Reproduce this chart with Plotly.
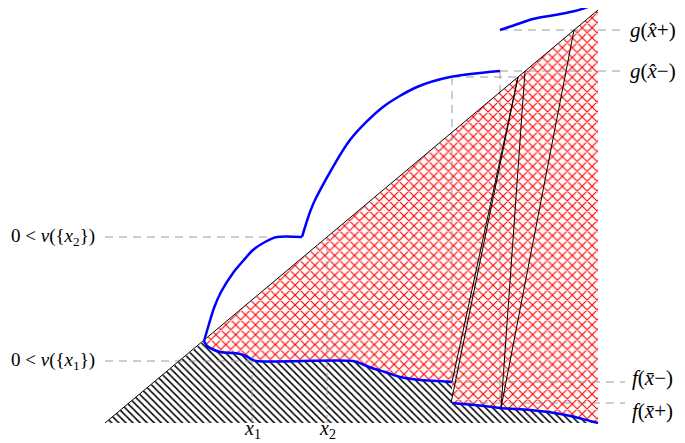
import plotly.graph_objects as go

# Diagram coordinates (diagonal runs from (0,0) to (493,413))
diag_x = [0, 493]
diag_y = [0, 413]

# lower blue curve (f), left piece up to x-bar and right piece after the jump
f_left_x = [99, 102, 107, 115, 127, 135, 141, 146, 151, 248, 257, 267, 280, 295, 315, 335, 347]
f_left_y = [82, 77, 74, 71, 70, 69, 67, 64, 62, 62, 59, 55, 51, 46, 43, 42, 41]
f_right_x = [347, 370, 395, 425, 450, 470, 485, 493]
f_right_y = [20, 18, 15, 13, 10, 6, 2, 0]

# upper blue curve (g)
g1_x = [99, 104, 109, 116, 128, 138, 148, 160, 172, 197]
g1_y = [82, 99, 115, 131, 150, 162, 173, 181, 186, 186]
g2_x = [197, 201, 205, 210, 245, 278, 312, 345, 395]
g2_y = [186, 199, 211, 223, 283, 316, 336, 346, 352]
g3_x = [395, 410, 428, 450, 470, 485, 493]
g3_y = [393, 398, 404, 408, 412, 417, 422]

# key levels / points
x1, x2 = 147, 222
nu1, nu2 = 62, 186
x_hat = 395
g_minus, g_plus = 352, 393
x_bar = 347
f_minus, f_plus = 41, 20
box_y = 346
label_x = 520

# thin black segments (start on diagonal, end on f)
seg_x0 = [413, 413, 420, 469]
seg_y0 = [346, 346, 352, 393]
seg_x1 = [347, 346, 396, 396]
seg_y1 = [41, 20, 15, 15]

fig = go.Figure()

# hatched region below f
hx = [0] + f_left_x + f_right_x + [0]
hy = [0] + f_left_y + f_right_y + [0]
fig.add_trace(go.Scatter(x=hx, y=hy, mode="lines", fill="toself", line=dict(width=0),
                         fillcolor="white",
                         fillpattern=dict(shape="\\", fgcolor="black", bgcolor="white", size=5,
                                          solidity=0.3, fgopacity=1),
                         hoverinfo="skip", showlegend=False))
# red cross-hatched region between diagonal and f
rx = [f_left_x[0], diag_x[1], diag_x[1]] + f_right_x[::-1] + f_left_x[::-1]
ry = [f_left_y[0], diag_y[1], 0] + f_right_y[::-1] + f_left_y[::-1]
fig.add_trace(go.Scatter(x=rx, y=ry, mode="lines", fill="toself", line=dict(width=0),
                         fillcolor="white",
                         fillpattern=dict(shape="x", fgcolor="#ff0000", bgcolor="white", size=7,
                                          solidity=0.3, fgopacity=1),
                         hoverinfo="skip", showlegend=False))

dash = dict(color="#9a9a9a", width=1, dash="8px,6px")

def dline(xs, ys):
    fig.add_trace(go.Scatter(x=xs, y=ys, mode="lines", line=dash, hoverinfo="skip", showlegend=False))

dline([0, x1], [nu1, nu1])
dline([x1, x1], [nu1, 0])
dline([0, g1_x[-2]], [nu2, nu2])
dline([x2, x2], [0, nu2])
dline([x_hat, label_x], [g_minus, g_minus])
dline([x_hat, label_x], [g_plus, g_plus])
dline([x_bar, 413], [box_y, box_y])
dline([x_bar, x_bar], [box_y, f_minus])
dline([x_hat, x_hat], [g_minus, 15])
dline([x_bar, label_x], [f_minus, f_minus])
dline([x_bar, label_x], [f_plus, f_plus])

# diagonal
fig.add_trace(go.Scatter(x=diag_x, y=diag_y, mode="lines", line=dict(color="black", width=1),
                         hoverinfo="skip", showlegend=False))
# black segments
for a, b, c, d in zip(seg_x0, seg_y0, seg_x1, seg_y1):
    fig.add_trace(go.Scatter(x=[a, c], y=[b, d], mode="lines", line=dict(color="black", width=1),
                             hoverinfo="skip", showlegend=False))

blue = dict(color="#0000ff", width=2.5)
for xs, ys in [(f_left_x, f_left_y), (f_right_x, f_right_y), (g1_x, g1_y), (g2_x, g2_y), (g3_x, g3_y)]:
    fig.add_trace(go.Scatter(x=xs, y=ys, mode="lines", line=dict(shape="spline", smoothing=0.8, **blue),
                             hoverinfo="skip", showlegend=False))

font_l = dict(family="Liberation Serif", size=19, color="black")
font_r = dict(family="Liberation Serif", size=21, color="black")
font_x = dict(family="Liberation Serif", size=20, color="black")
ann = [
    dict(x=-8, y=nu2, text="0 &lt; <i>ν</i>({<i>x</i><sub>2</sub>})", xanchor="right", font=font_l),
    dict(x=-8, y=nu1, text="0 &lt; <i>ν</i>({<i>x</i><sub>1</sub>})", xanchor="right", font=font_l),
    dict(x=x1, y=-6, text="<i>x</i><sub>1</sub>", xanchor="center", font=font_x),
    dict(x=x2, y=-6, text="<i>x</i><sub>2</sub>", xanchor="center", font=font_x),
    dict(x=523, y=g_plus, text="<i>g</i>(<i>x\u0302</i>+)", xanchor="left", font=font_r),
    dict(x=523, y=g_minus, text="<i>g</i>(<i>x\u0302</i>−)", xanchor="left", font=font_r),
    dict(x=525, y=45, text="<i>f</i>(<i>x\u0304</i>−)", xanchor="left", font=font_r),
    dict(x=525, y=12, text="<i>f</i>(<i>x\u0304</i>+)", xanchor="left", font=font_r),
]
for a in ann:
    fig.add_annotation(xref="x", yref="y", showarrow=False, yanchor="middle", **a)

# page body has an 8px margin: ranges are offset so the drawing lands where it should
fig.update_layout(width=685, height=443, autosize=False,
                  margin=dict(l=0, r=0, t=0, b=0, pad=0),
                  plot_bgcolor="white", paper_bgcolor="white",
                  xaxis=dict(range=[-97, 588], visible=False, showgrid=False, zeroline=False),
                  yaxis=dict(range=[-28, 415], visible=False, showgrid=False, zeroline=False))
fig.write_html("out.html")
